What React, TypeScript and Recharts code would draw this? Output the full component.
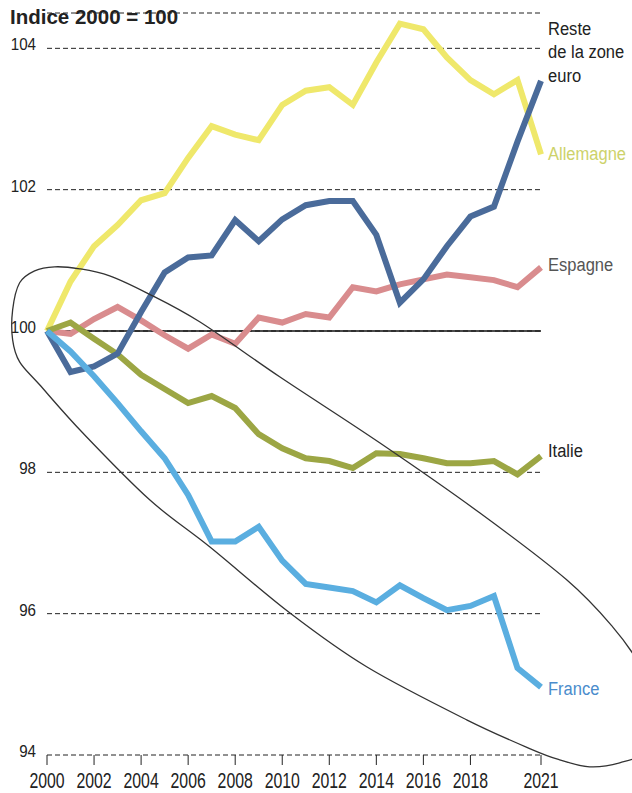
import { LineChart, Line, XAxis, YAxis, CartesianGrid, ReferenceLine, ReferenceDot } from 'recharts'

const years = [
  2000, 2001, 2002, 2003, 2004, 2005, 2006, 2007, 2008, 2009, 2010,
  2011, 2012, 2013, 2014, 2015, 2016, 2017, 2018, 2019, 2020, 2021,
]

const allemagne = [
  100, 100.7, 101.2, 101.5, 101.85, 101.95, 102.45, 102.9, 102.78, 102.7, 103.2,
  103.4, 103.45, 103.2, 103.8, 104.35, 104.27, 103.87, 103.55, 103.35, 103.55, 102.5,
]
const resteZoneEuro = [
  100, 99.42, 99.5, 99.68, 100.27, 100.83, 101.04, 101.07, 101.57, 101.27, 101.58,
  101.78, 101.84, 101.84, 101.36, 100.4, 100.73, 101.2, 101.62, 101.76, 102.68, 103.54,
]
const espagne = [
  100, 99.96, 100.17, 100.34, 100.15, 99.94, 99.75, 99.95, 99.82, 100.19, 100.12,
  100.24, 100.19, 100.62, 100.56, 100.66, 100.73, 100.8, 100.76, 100.72, 100.62, 100.9,
]
const italie = [
  100, 100.12, 99.89, 99.67, 99.38, 99.18, 98.98, 99.08, 98.91, 98.54, 98.34,
  98.2, 98.16, 98.06, 98.27, 98.26, 98.2, 98.13, 98.13, 98.16, 97.97, 98.23,
]
const france = [
  100, 99.71, 99.36, 98.98, 98.58, 98.2, 97.68, 97.02, 97.02, 97.23, 96.75,
  96.42, 96.37, 96.32, 96.16, 96.4, 96.22, 96.05, 96.11, 96.25, 95.23, 94.96,
]

const xTicks = [2000, 2002, 2004, 2006, 2008, 2010, 2012, 2014, 2016, 2018, 2021]
const yTicks = [94, 96, 98, 100, 102, 104]

const data = years.map((year, i) => ({
  year,
  allemagne: allemagne[i],
  reste: resteZoneEuro[i],
  espagne: espagne[i],
  italie: italie[i],
  france: france[i],
}))

const FONT = "'Liberation Sans', Arial, sans-serif"

// outline of the hand-drawn loop, px offsets from its anchor
const loopOutline: [number, number][] = [
  [-319, -212], [-312, -239], [-297, -251], [-277, -255], [-252, -253], [-222, -246],
  [-185, -229], [-132, -200], [-52, -145], [48, -79], [148, -9], [235, 58], [281, 105],
  [308, 143], [328, 190], [316, 228], [288, 241], [258, 245], [228, 238], [201, 228],
  [135, 198], [35, 145], [-42, 91], [-122, 25], [-182, -22], [-249, -89], [-292, -137],
  [-312, -160], [-319, -182],
]

function smoothClosed(pts: [number, number][], ox: number, oy: number) {
  const n = pts.length
  const p = pts.map(([a, b]) => [a + ox, b + oy])
  let d = `M${p[0][0]},${p[0][1]}`
  for (let i = 0; i < n; i++) {
    const p0 = p[(i - 1 + n) % n]
    const p1 = p[i]
    const p2 = p[(i + 1) % n]
    const p3 = p[(i + 2) % n]
    const c1 = [p1[0] + (p2[0] - p0[0]) / 6, p1[1] + (p2[1] - p0[1]) / 6]
    const c2 = [p2[0] - (p3[0] - p1[0]) / 6, p2[1] - (p3[1] - p1[1]) / 6]
    d += ` C${c1[0]},${c1[1]} ${c2[0]},${c2[1]} ${p2[0]},${p2[1]}`
  }
  return d + 'Z'
}

const Loop = (props: any) => {
  const { cx, cy } = props
  return <path d={smoothClosed(loopOutline, cx, cy)} fill="none" stroke="#333" strokeWidth={1.3} />
}

function endLabel(lines: string[], color: string, dy: number) {
  return (props: any) => {
    const { x, y, index } = props
    if (index !== years.length - 1) return null
    return (
      <text
        transform={`translate(${x + 7},${y + dy}) scale(0.87,1)`}
        fill={color}
        fontSize={19}
        fontFamily={FONT}
      >
        {lines.map((l, i) => (
          <tspan key={l} x={0} dy={i === 0 ? 0 : 23.5}>
            {l}
          </tspan>
        ))}
      </text>
    )
  }
}

const YTick = (props: any) => {
  const { x, y, payload } = props
  return (
    <text
      transform={`translate(${x},${y + 2}) scale(0.89,1)`}
      textAnchor="end"
      fill="#222"
      fontSize={17}
      fontFamily={FONT}
    >
      {payload.value}
    </text>
  )
}

const XTick = (props: any) => {
  const { x, y, payload } = props
  return (
    <text
      transform={`translate(${x},${y + 18}) scale(0.72,1)`}
      textAnchor="middle"
      fill="#222"
      fontSize={22}
      fontFamily={FONT}
    >
      {payload.value}
    </text>
  )
}

export default function App() {
  return (
    <div style={{ position: 'absolute', left: 0, top: 0, width: 632, height: 793, background: '#fff', overflow: 'hidden' }}>
      <div
        style={{
          position: 'absolute',
          left: 10,
          top: 5,
          fontFamily: FONT,
          fontWeight: 'bold',
          fontSize: 20.5,
          color: '#222',
          whiteSpace: 'nowrap',
        }}
      >
        Indice 2000 = 100
      </div>
      <LineChart width={632} height={793} data={data} margin={{ top: 13, right: 91, bottom: 0, left: 0 }}>
        <CartesianGrid vertical={false} strokeDasharray="5 3" stroke="#222" />
        <XAxis
          dataKey="year"
          type="number"
          domain={[2000, 2021]}
          ticks={xTicks}
          interval={0}
          axisLine={false}
          tickLine={{ stroke: '#222' }}
          tickSize={10}
          tickMargin={5}
          height={38}
          tick={<XTick />}
        />
        <YAxis
          type="number"
          domain={[94, 104.5]}
          ticks={yTicks}
          interval={0}
          axisLine={false}
          tickLine={false}
          tickMargin={5}
          width={47}
          tick={<YTick />}
        />
        <ReferenceLine y={100} stroke="#111" strokeWidth={1.5} />
        <ReferenceDot x={2012.1} y={97.3} ifOverflow="visible" shape={<Loop />} />
        <Line
          dataKey="allemagne"
          stroke="#efe86b"
          strokeWidth={6}
          dot={false}
          isAnimationActive={false}
          label={endLabel(['Allemagne'], '#cdd26a', 6)}
        />
        <Line
          dataKey="espagne"
          stroke="#d98c8e"
          strokeWidth={6}
          dot={false}
          isAnimationActive={false}
          label={endLabel(['Espagne'], '#555', 4)}
        />
        <Line
          dataKey="italie"
          stroke="#9ca644"
          strokeWidth={6}
          dot={false}
          isAnimationActive={false}
          label={endLabel(['Italie'], '#222', 1)}
        />
        <Line
          dataKey="reste"
          stroke="#4a6b9a"
          strokeWidth={6}
          dot={false}
          isAnimationActive={false}
          label={endLabel(['Reste', 'de la zone', 'euro'], '#222', -46)}
        />
        <Line
          dataKey="france"
          stroke="#5aaee0"
          strokeWidth={6}
          dot={false}
          isAnimationActive={false}
          label={endLabel(['France'], '#4a8ccc', 8)}
        />
      </LineChart>
    </div>
  )
}
